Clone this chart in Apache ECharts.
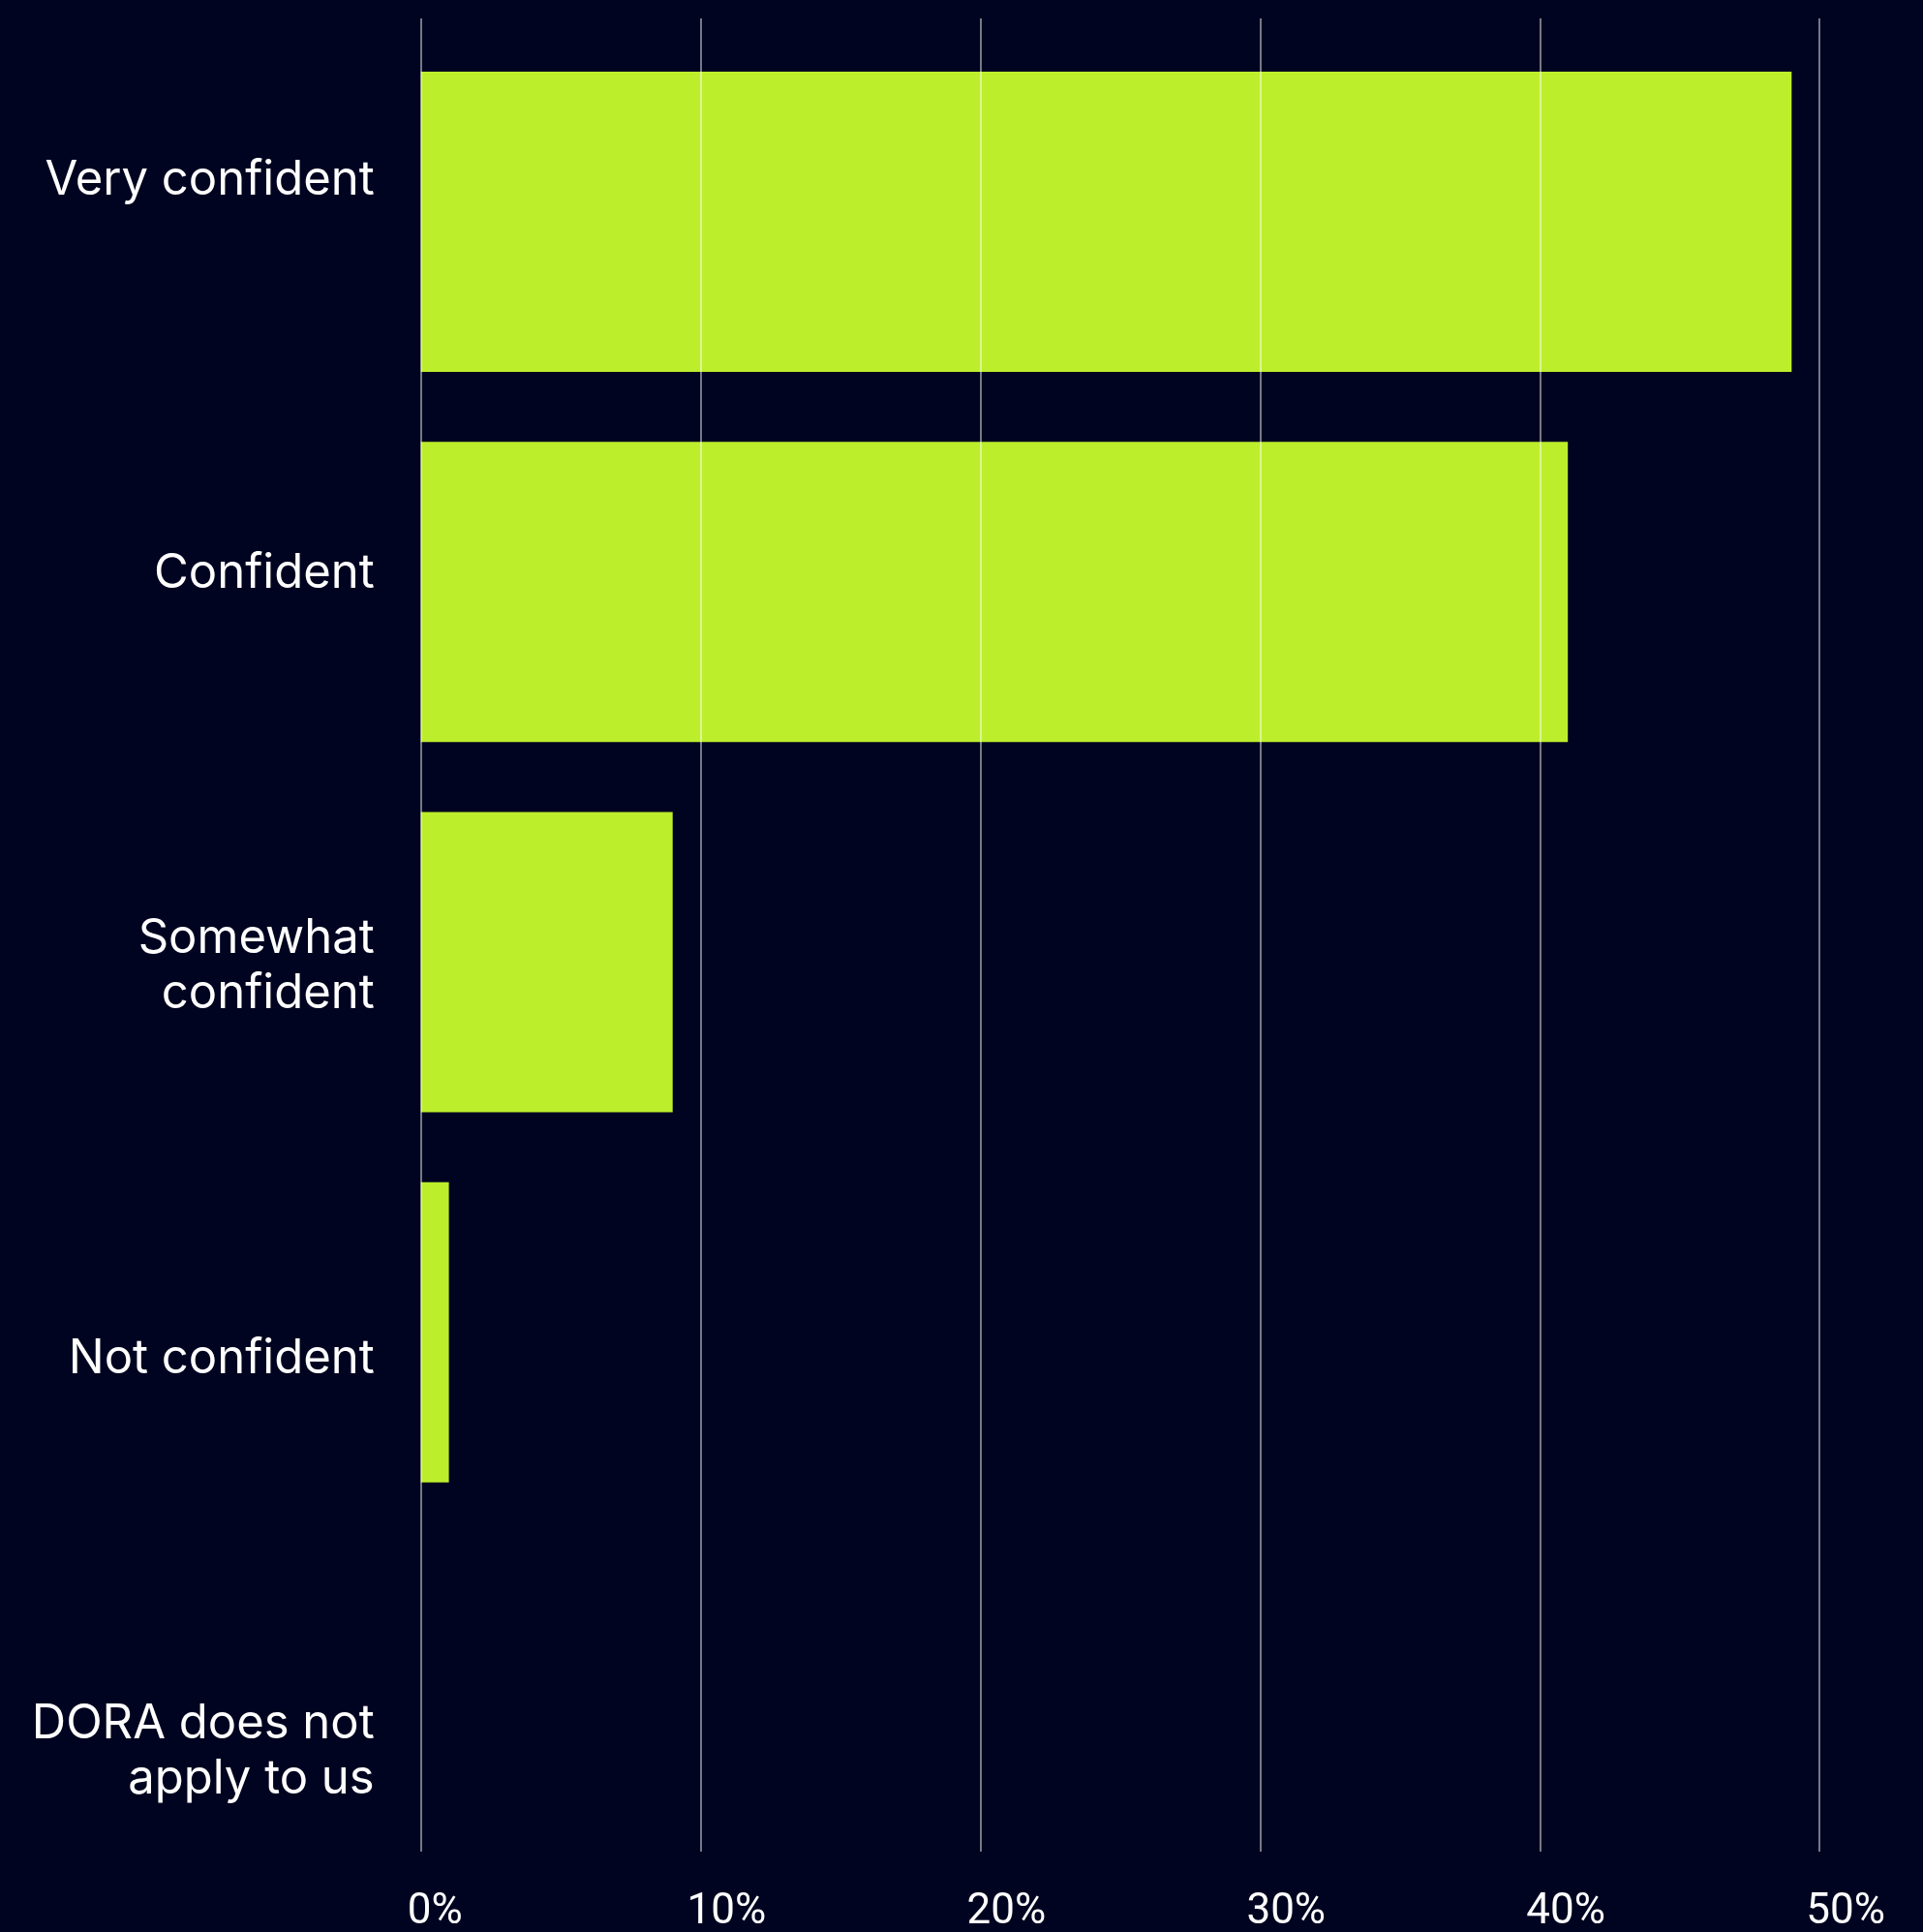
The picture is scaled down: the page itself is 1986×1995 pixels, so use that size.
<!DOCTYPE html>
<html>
<head>
<meta charset="utf-8">
<style>
  html, body { margin: 0; padding: 0; background: #000420; }
  #chart { width: 1986px; height: 1995px; }
</style>
<script src="https://cdn.jsdelivr.net/npm/echarts@6/dist/echarts.min.js"></script>
</head>
<body>
<div id="chart"></div>
<script>
// Survey answers, top to bottom
const categories = [
  'Very confident',
  'Confident',
  'Somewhat\nconfident',
  'Not confident',
  'DORA does not\napply to us'
];
// Share of respondents, in percent
const shares = [49, 41, 9, 1, 0];
// Value axis range and step
const axisMin = 0;
const axisMax = 50;
const axisStep = 10;

const BG = '#000420';
const BAR = '#bdee2c';
const LABEL_FONT = "Inter, 'Liberation Sans', sans-serif";
const TICK_FONT = "Roboto, 'DejaVu Sans Condensed', sans-serif";

const chart = echarts.init(document.getElementById('chart'), null, { renderer: 'canvas' });

const plotLeft = 434.7;
const plotRight = 106.8;

chart.setOption({
  backgroundColor: BG,
  animation: false,
  grid: [
    // bars
    { left: plotLeft, right: plotRight, top: 38, bottom: 46, outerBoundsMode: 'none' },
    // vertical grid lines
    { left: plotLeft, right: plotRight, top: 19, bottom: 83, outerBoundsMode: 'none' },
    // percentage tick labels
    { left: plotLeft - 14, right: plotRight + 14, top: 19, bottom: 83, outerBoundsMode: 'none' },
    // category labels
    { left: plotLeft, right: plotRight, top: -16, height: 2027.5, outerBoundsMode: 'none' }
  ],
  xAxis: [
    { gridIndex: 0, type: 'value', min: axisMin, max: axisMax, interval: axisStep, show: false },
    {
      gridIndex: 1, type: 'value', min: axisMin, max: axisMax, interval: axisStep, z: 10,
      axisLine: { show: false }, axisTick: { show: false }, axisLabel: { show: false },
      splitLine: { show: true, lineStyle: { color: 'rgba(255,255,255,0.62)', width: 1.5 } }
    },
    {
      gridIndex: 2, type: 'value', min: axisMin, max: axisMax, interval: axisStep,
      axisLine: { show: false }, axisTick: { show: false }, splitLine: { show: false },
      axisLabel: {
        show: true, color: '#ffffff', fontFamily: TICK_FONT, fontSize: 44, lineHeight: 44,
        margin: 41, align: 'left', formatter: '{value}%'
      }
    },
    { gridIndex: 3, type: 'value', show: false }
  ],
  yAxis: [
    { gridIndex: 0, type: 'category', data: categories, inverse: true, show: false },
    { gridIndex: 1, type: 'value', show: false },
    { gridIndex: 2, type: 'value', show: false },
    {
      gridIndex: 3, type: 'category', data: categories, inverse: true,
      axisLine: { show: false }, axisTick: { show: false }, splitLine: { show: false },
      axisLabel: {
        show: true, color: '#ffffff', fontFamily: LABEL_FONT, fontSize: 49, lineHeight: 57,
        margin: 48, align: 'right', interval: 0
      }
    }
  ],
  series: [
    {
      type: 'bar',
      xAxisIndex: 0,
      yAxisIndex: 0,
      data: shares,
      barWidth: 310,
      itemStyle: { color: BAR },
      z: 2
    }
  ]
});
</script>
</body>
</html>
